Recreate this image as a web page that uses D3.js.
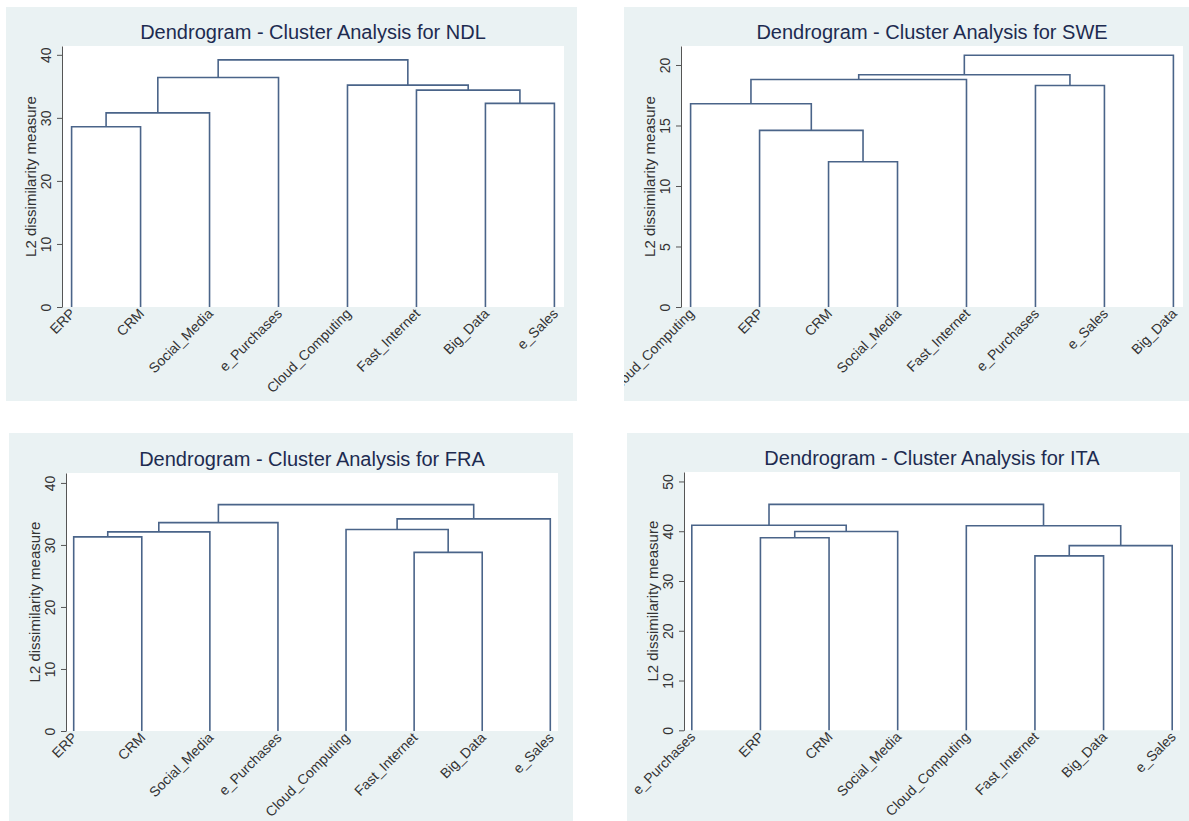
<!DOCTYPE html>
<html>
<head>
<meta charset="utf-8">
<script src="https://cdn.jsdelivr.net/npm/d3@7"></script>
<style>
  body { margin: 0; background: #ffffff; }
  text { font-family: "Liberation Sans", Arial, sans-serif; }
</style>
</head>
<body>
<svg id="chart" width="1189" height="821"></svg>
<script>
// leaf order on the x axis, per country
const ndlLeaves = ["ERP", "CRM", "Social_Media", "e_Purchases", "Cloud_Computing", "Fast_Internet", "Big_Data", "e_Sales"];
const sweLeaves = ["Cloud_Computing", "ERP", "CRM", "Social_Media", "Fast_Internet", "e_Purchases", "e_Sales", "Big_Data"];
const fraLeaves = ["ERP", "CRM", "Social_Media", "e_Purchases", "Cloud_Computing", "Fast_Internet", "Big_Data", "e_Sales"];
const itaLeaves = ["e_Purchases", "ERP", "CRM", "Social_Media", "Cloud_Computing", "Fast_Internet", "Big_Data", "e_Sales"];

// merges: [left node, right node, height]; leaves are 0..7, merge k makes node 8+k
const ndlMerges = [[0, 1, 28.6], [8, 2, 30.8], [6, 7, 32.3], [5, 10, 34.4], [4, 11, 35.2], [9, 3, 36.4], [13, 12, 39.2]];
const sweMerges = [[2, 3, 12.0], [1, 8, 14.6], [0, 9, 16.8], [5, 6, 18.3], [10, 4, 18.8], [12, 11, 19.2], [13, 7, 20.8]];
const fraMerges = [[5, 6, 28.8], [0, 1, 31.3], [9, 2, 32.1], [4, 8, 32.5], [10, 3, 33.6], [11, 7, 34.2], [12, 13, 36.5]];
const itaMerges = [[5, 6, 35.05], [8, 7, 37.1], [1, 2, 38.7], [10, 3, 39.95], [4, 9, 41.1], [0, 11, 41.2], [13, 12, 45.4]];

// y axis tick labels
const ndlTicks = [0, 10, 20, 30, 40];
const sweTicks = [0, 5, 10, 15, 20];
const fraTicks = [0, 10, 20, 30, 40];
const itaTicks = [0, 10, 20, 30, 40, 50];

const countries = ["NDL", "SWE", "FRA", "ITA"];
const yTitle = "L2 dissimilarity measure";

// where each graph sits on the page
const layout = [
  { bg: [6, 7, 571, 394],   plot: [62, 46, 564, 307],   inset: 9.6, yTop: 41.4 },
  { bg: [624, 7, 565, 394], plot: [681, 46, 1183, 307], inset: 9.6, yTop: 21.57 },
  { bg: [9, 433, 564, 388], plot: [66, 473, 558, 731],  inset: 7.7, yTop: 41.6 },
  { bg: [627, 433, 562, 388], plot: [684, 472, 1180, 730.3], inset: 7.8, yTop: 51.9 }
];

const panels = [
  { leaves: ndlLeaves, merges: ndlMerges, ticks: ndlTicks },
  { leaves: sweLeaves, merges: sweMerges, ticks: sweTicks },
  { leaves: fraLeaves, merges: fraMerges, ticks: fraTicks },
  { leaves: itaLeaves, merges: itaMerges, ticks: itaTicks }
];

const lineColor = "#4a6489";
const svg = d3.select("#chart");

panels.forEach((p, i) => {
  const L = layout[i];
  const [bx, by, bw, bh] = L.bg;
  const [x0, y0, x1, y1] = L.plot;

  const g = svg.append("g");
  g.append("clipPath").attr("id", "clip" + i)
    .append("rect").attr("x", bx).attr("y", by).attr("width", bw).attr("height", bh);
  const inner = g.append("g").attr("clip-path", `url(#clip${i})`);

  inner.append("rect")
    .attr("x", bx).attr("y", by).attr("width", bw).attr("height", bh)
    .attr("fill", "#eaf2f3");
  inner.append("rect")
    .attr("x", x0).attr("y", y0).attr("width", x1 - x0).attr("height", y1 - y0)
    .attr("fill", "#ffffff");

  const x = d3.scalePoint().domain(p.leaves).range([x0 + L.inset, x1 - L.inset]);
  const y = d3.scaleLinear().domain([0, L.yTop]).range([y1, y0]);

  // title
  inner.append("text")
    .attr("x", (x0 + x1) / 2).attr("y", y0 - 7)
    .attr("text-anchor", "middle")
    .attr("font-size", 20)
    .attr("fill", "#1d2b50")
    .text("Dendrogram - Cluster Analysis for " + countries[i]);

  // y axis
  const yAxis = inner.append("g")
    .attr("transform", `translate(${x0},0)`)
    .call(d3.axisLeft(y).tickValues(p.ticks).tickSize(5).tickSizeOuter(0));
  yAxis.select(".domain").attr("stroke", "#555");
  yAxis.selectAll(".tick line").attr("stroke", "#555");
  yAxis.selectAll(".tick text")
    .attr("x", null).attr("dy", null)
    .attr("text-anchor", "middle")
    .attr("transform", "translate(-11,0) rotate(-90)")
    .attr("font-size", 14)
    .attr("fill", "#333");

  inner.append("text")
    .attr("transform", `translate(${x0 - 26},${(y0 + y1) / 2}) rotate(-90)`)
    .attr("text-anchor", "middle")
    .attr("font-size", 15)
    .attr("fill", "#333")
    .text(yTitle);

  // node positions: leaves at the bottom, merges at the mean of their children
  const nodes = p.leaves.map(name => ({ x: x(name), h: 0 }));
  p.merges.forEach(([a, b, h]) => {
    nodes.push({ x: (nodes[a].x + nodes[b].x) / 2, h: h });
  });

  inner.append("g").selectAll("path")
    .data(p.merges)
    .join("path")
    .attr("d", ([a, b, h]) => {
      const pa = nodes[a], pb = nodes[b];
      return `M${pa.x},${y(pa.h)}V${y(h)}H${pb.x}V${y(pb.h)}`;
    })
    .attr("fill", "none")
    .attr("stroke", lineColor)
    .attr("stroke-width", 1.6);

  // leaf labels
  inner.append("g").selectAll("text")
    .data(p.leaves)
    .join("text")
    .attr("transform", d => `translate(${x(d) + 1},${y1 + 4}) rotate(-45)`)
    .attr("text-anchor", "end")
    .attr("dy", "0.35em")
    .attr("font-size", 14)
    .attr("fill", "#333")
    .text(d => d);
});
</script>
</body>
</html>
